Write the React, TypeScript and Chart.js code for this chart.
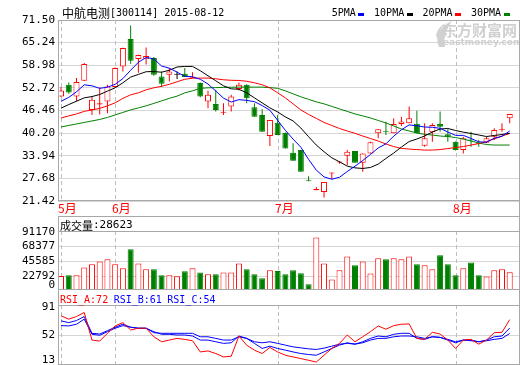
import React, { useEffect, useRef } from 'react';
import { Chart, registerables } from 'chart.js';
Chart.register(...registerables);

// ---------------- data ----------------
const stockName = '中航电测';
const stockCode = '[300114] 2015-08-12';
const monthIdx = [0, 7, 28, 51];
const monthText = ['5月', '6月', '7月', '8月'];

const openP = [50.32,53.57,50.32,54.68,46.62,48.15,48.93,52.93,58.66,66.27,60.70,60.76,60.99,55.88,56.35,56.35,56.63,55.52,54.05,48.93,48.29,45.87,47.54,52.38,53.57,47.38,45.24,39.40,43.10,40.32,34.76,35.51,27.00,24.39,23.92,29.03,32.04,33.93,35.23,31.98,34.59,40.15,40.79,40.20,42.73,42.93,42.82,36.70,40.43,42.73,39.87,37.82,35.51,38.43,37.46,37.54,39.20,41.15,44.32];
const highP = [52.93,54.21,55.43,59.60,50.32,52.82,53.57,58.38,63.80,69.97,61.91,63.86,61.27,57.27,58.21,57.27,58.21,57.05,54.20,51.90,52.18,48.49,50.79,54.21,53.70,48.49,46.82,43.85,45.24,40.40,37.37,35.51,28.28,25.31,26.70,29.31,32.45,35.51,35.23,34.59,37.82,41.26,43.37,44.32,44.76,47.54,46.40,42.93,42.93,46.15,41.26,37.90,39.20,40.60,38.29,39.20,41.54,42.93,45.51];
const lowP = [50.20,51.07,48.93,54.60,45.24,45.32,45.71,52.80,57.27,59.41,56.90,59.21,56.07,52.93,54.49,55.16,55.71,55.43,50.10,47.10,46.15,45.24,46.15,51.99,48.49,44.76,40.60,36.62,39.68,35.98,32.54,29.48,26.85,24.39,22.36,27.45,31.76,31.34,31.98,29.48,34.59,38.76,39.68,40.20,42.18,42.93,40.15,36.43,37.82,40.60,37.82,35.40,34.59,36.43,36.43,37.37,38.29,40.60,42.93];
const closeP = [51.99,51.43,54.32,59.32,49.40,48.49,53.10,58.21,63.77,60.24,61.83,61.55,56.35,53.85,57.27,56.35,55.71,55.80,50.32,50.79,46.62,45.98,50.32,53.57,49.88,44.76,40.60,43.85,39.68,35.98,32.54,29.48,26.89,24.75,26.70,29.31,32.17,35.04,31.98,34.59,37.65,41.26,40.60,42.73,43.43,44.32,40.15,38.76,42.46,41.98,39.20,35.51,38.76,38.15,37.26,38.76,41.07,41.34,45.51];

const volume = [22792,23856,23856,35556,40570,44673,48168,40570,34493,63363,41634,32973,32973,23856,23856,22337,29934,34493,27959,25376,25376,27959,27959,41634,32973,25376,19298,31454,30390,25376,31454,26895,10181,81141,41634,17322,31454,52271,39051,44673,26439,49688,48168,49688,48168,52271,40570,39051,32973,54246,40570,23856,34493,43154,23856,21881,31454,32973,28623];

const ma5 = [48.99,50.10,51.63,53.57,53.29,52.59,52.93,53.70,55.30,57.60,59.80,61.12,60.75,58.76,58.17,57.07,55.91,55.80,55.09,53.79,51.85,49.90,48.81,49.46,49.27,48.90,47.83,46.53,43.75,40.97,38.53,36.31,32.94,29.95,28.09,27.45,27.99,29.59,31.04,32.62,34.29,36.10,37.22,39.37,41.13,42.47,42.25,41.88,41.82,41.53,40.51,39.58,39.58,38.72,37.78,37.69,38.80,39.32,40.79];
const ma10 = [47.10,48.10,49.04,49.96,50.32,50.88,51.82,52.74,54.13,55.71,56.44,57.19,57.24,57.05,57.60,58.49,58.66,58.66,57.46,56.07,54.68,53.29,52.46,52.32,51.35,49.96,48.57,47.18,46.07,44.68,43.57,41.62,39.20,36.90,35.04,33.37,32.26,31.06,30.59,30.42,30.70,31.62,33.20,34.68,36.34,37.87,38.57,39.40,40.51,41.34,41.48,40.93,40.46,40.10,39.68,39.26,39.54,39.82,40.15];
const ma20 = [44.40,44.96,45.51,46.21,46.62,47.04,47.74,48.57,49.82,50.79,51.35,52.18,52.74,53.16,53.71,54.41,55.10,55.38,55.43,55.43,55.24,54.96,54.82,54.77,54.55,54.13,53.57,52.74,51.35,49.96,48.29,46.62,45.37,44.26,43.15,42.32,41.48,40.79,40.15,39.40,38.70,38.01,37.18,36.48,35.98,35.79,35.65,35.51,35.51,35.65,35.93,36.20,36.48,36.90,37.32,37.87,38.57,39.40,40.10];
const ma30 = [41.90,42.32,42.73,43.15,43.57,43.98,44.54,45.24,45.93,46.62,47.18,47.74,48.43,49.13,49.82,50.43,51.35,51.90,52.60,52.74,52.79,52.85,52.90,52.93,52.93,52.93,52.93,52.79,52.60,51.90,51.07,50.24,49.54,48.85,48.29,47.60,46.90,46.21,45.51,44.96,44.40,43.71,43.01,42.18,41.34,40.79,40.23,39.87,39.68,39.40,39.26,38.98,38.57,38.01,37.46,37.04,36.90,36.90,36.90];

const rsiA = [76.9,72.6,76.0,81.3,45.4,44.1,54.2,63.8,68.1,58.5,60.8,60.8,49.7,43.2,45.4,47.6,46.3,44.5,30.0,31.3,27.9,23.5,24.4,50.7,38.8,32.3,27.9,35.8,30.0,25.7,23.5,21.4,19.1,16.9,25.7,34.5,41.1,52.0,43.2,49.7,56.3,63.8,59.5,64.2,66.0,66.4,47.6,46.3,55.5,53.3,45.4,34.5,45.4,46.3,40.1,45.4,55.0,55.5,72];
const rsiB = [70.4,68.1,70.8,76.0,54.2,53.3,57.6,62.1,66.0,62.1,60.8,60.8,56.3,52.9,52.9,52.0,52.0,50.7,45.4,45.4,43.2,41.1,41.9,50.7,47.6,41.1,34.5,37.5,34.5,32.3,30.0,27.9,26.6,25.7,30.0,34.5,38.8,41.9,40.1,43.2,47.6,50.7,49.7,52.9,54.2,54.2,47.6,46.3,49.7,48.9,45.4,41.9,45.4,45.4,43.2,45.4,49.7,50.7,61];
const rsiC = [64.2,63.8,66.0,72.6,52.9,51.6,56.3,60.8,64.2,62.1,60.8,60.8,55.0,54.2,54.2,54.2,54.2,54.2,49.7,49.7,47.6,45.4,45.4,49.7,47.6,43.2,41.9,43.2,41.1,38.8,36.6,35.3,34.0,33.2,34.9,37.5,40.1,41.1,40.1,41.9,45.4,47.6,47.6,49.7,50.7,50.7,49.7,47.6,49.7,48.9,46.3,43.2,45.4,44.5,43.2,44.5,46.3,47.6,54];

const priceTicks = [21.42, 27.68, 33.94, 40.20, 46.46, 52.72, 58.98, 65.24, 71.50];
const volTicks = [0, 22792.5, 45585, 68377.5, 91170];
const rsiTicks = [13, 52, 91];
const legendNames = ['5PMA', '10PMA', '20PMA', '30PMA'];
const volTitle = '成交量';
const rsiNames = ['RSI_A', 'RSI_B', 'RSI_C'];

// ---------------- style ----------------
const MONO = '"DejaVu Sans Mono", "Liberation Mono", monospace';
const CJK = '"Noto Sans CJK SC", sans-serif';
const RED = '#ff0000';
const GREEN = '#008000';
const BLUE = '#0000ff';
const BLACK = '#000000';
const GRID = '#d6d6d6';
const FRAME = '#a8a8a8';
const DASH = '#bdbdbd';
const legendColors = [BLUE, BLACK, RED, GREEN];
const X_MIN = -0.39;
const X_MAX = 59.2;
const AXIS_W = 58;
const LABEL_SIZE = 11;

const N = closeP.length;
const IDX = Array.from({ length: N }, (_, i) => i);
const isUp = IDX.map(i => closeP[i] >= openP[i]);
const candleColor = IDX.map(i => (closeP[i] === openP[i] ? BLACK : isUp[i] ? RED : GREEN));
const volColor = IDX.map(i => (isUp[i] ? RED : GREEN));

function hline(ctx: CanvasRenderingContext2D, y: number, x1: number, x2: number) {
  ctx.beginPath(); ctx.moveTo(x1, y); ctx.lineTo(x2, y); ctx.stroke();
}
function vline(ctx: CanvasRenderingContext2D, x: number, y1: number, y2: number) {
  ctx.beginPath(); ctx.moveTo(x, y1); ctx.lineTo(x, y2); ctx.stroke();
}

const monthLinesPlugin = {
  id: 'monthLines',
  beforeDatasetsDraw(chart: any) {
    const { ctx, chartArea: a, scales } = chart;
    ctx.save();
    ctx.strokeStyle = DASH; ctx.lineWidth = 1; ctx.setLineDash([4, 3]);
    monthIdx.forEach(i => {
      const px = Math.round(scales.x.getPixelForValue(i)) + 0.5;
      vline(ctx, px, a.top, a.bottom);
    });
    ctx.restore();
  },
};

const xScale = () => ({
  type: 'linear', min: X_MIN, max: X_MAX, display: false, offset: false, bounds: 'data',
  grid: { offset: false, display: false }, ticks: { display: false },
});

function yScale(min: number, max: number, gridTicks: number[], showLabels: boolean, fmt?: (v: number) => string) {
  return {
    position: 'left',
    min, max,
    afterBuildTicks: (s: any) => { s.ticks = gridTicks.map(v => ({ value: v })); },
    afterFit: (s: any) => { s.width = AXIS_W; },
    grid: { color: GRID, drawTicks: false, lineWidth: 1 },
    border: { display: false },
    ticks: {
      display: showLabels, autoSkip: false, padding: 3, color: BLACK,
      font: { family: MONO, size: LABEL_SIZE },
      callback: (v: any) => (fmt ? fmt(Number(v)) : String(v)),
    },
  };
}

const baseOpts = (padTop: number, padBottom: number) => ({
  responsive: false,
  animation: false,
  devicePixelRatio: 1,
  events: [],
  layout: { padding: { left: 0, right: 1, top: padTop, bottom: padBottom } },
  plugins: { legend: { display: false }, tooltip: { enabled: false } },
});

// ---------------- price chart ----------------
const pricePlugin = {
  id: 'priceDeco',
  beforeDatasetsDraw(chart: any) {
    const { ctx } = chart;
    ctx.save();
    ctx.fillStyle = '#d0d0d0';
    ctx.beginPath();
    ctx.moveTo(439, 47);
    ctx.quadraticCurveTo(432, 31, 452, 21);
    ctx.quadraticCurveTo(442, 33, 445, 47);
    ctx.closePath();
    ctx.fill();
    ctx.beginPath();
    ctx.moveTo(436, 36);
    ctx.quadraticCurveTo(437, 27, 446, 23);
    ctx.quadraticCurveTo(439, 29, 438, 38);
    ctx.closePath();
    ctx.fill();
    ctx.font = 'bold 15px ' + CJK;
    ctx.textBaseline = 'middle';
    ctx.textAlign = 'left';
    ctx.fillText('东方财富网', 442, 30);
    ctx.font = 'bold 9px "DejaVu Sans", sans-serif';
    ctx.fillText('eastmoney.com', 443, 43);
    ctx.restore();
  },
  afterDraw(chart: any) {
    const { ctx, chartArea: a, scales } = chart;
    ctx.save();
    ctx.strokeStyle = FRAME; ctx.lineWidth = 1;
    hline(ctx, a.top + 0.5, a.left, 520);
    hline(ctx, a.bottom - 0.5, a.left, 520);
    vline(ctx, a.left + 0.5, a.top, a.bottom);
    vline(ctx, 519.5, a.top, chart.height);
    ctx.textBaseline = 'middle'; ctx.textAlign = 'left'; ctx.fillStyle = BLACK;
    ctx.font = '12px ' + CJK;
    ctx.fillText(stockName, 62, 13);
    const w = ctx.measureText(stockName).width;
    ctx.font = '10px ' + MONO;
    ctx.fillText(stockCode, 62 + w, 13);
    let x = 331.7;
    legendNames.forEach((name, k) => {
      ctx.fillStyle = BLACK;
      ctx.fillText(name, x, 13);
      x += ctx.measureText(name).width + 2.7;
      ctx.fillStyle = legendColors[k];
      ctx.fillRect(Math.round(x), 13, 6, 3);
      x += 6.6 + 9;
    });
    ctx.fillStyle = RED;
    ctx.font = '12px ' + CJK;
    monthIdx.forEach((i, k) => {
      const px = Math.round(scales.x.getPixelForValue(i));
      ctx.fillText(monthText[k], px - 3, 208);
    });
    ctx.restore();
  },
};

function priceConfig(): any {
  const line = (data: number[], color: string, order: number) => ({
    type: 'line', data: data.map((v, i) => ({ x: i, y: v })), borderColor: color, borderWidth: 1,
    pointRadius: 0, tension: 0, fill: false, order,
  });
  return {
    type: 'bar',
    data: {
      datasets: [
        line(ma5, BLUE, 0),
        line(ma10, BLACK, 1),
        line(ma20, RED, 2),
        line(ma30, GREEN, 3),
        {
          type: 'bar', data: IDX.map(i => ({ x: i, y: [openP[i], closeP[i]] })),
          backgroundColor: IDX.map(i => (isUp[i] ? '#ffffff' : GREEN)),
          borderColor: candleColor,
          borderWidth: 1, borderSkipped: false, barThickness: 6, grouped: false,
          minBarLength: 1, inflateAmount: 0, order: 5,
        },
        {
          type: 'bar', data: IDX.map(i => ({ x: i, y: [lowP[i], highP[i]] })),
          backgroundColor: candleColor,
          borderWidth: 0, barThickness: 1, grouped: false, inflateAmount: 0, order: 6,
        },
      ],
    },
    options: {
      ...baseOpts(20, 15),
      scales: {
        x: xScale(),
        y: yScale(priceTicks[0], priceTicks[priceTicks.length - 1], priceTicks, true, v => v.toFixed(2)),
      },
    },
    plugins: [monthLinesPlugin, pricePlugin],
  };
}

// ---------------- volume chart ----------------
const volPlugin = {
  id: 'volDeco',
  afterDraw(chart: any) {
    const { ctx, chartArea: a, scales } = chart;
    ctx.save();
    ctx.strokeStyle = FRAME; ctx.lineWidth = 1;
    hline(ctx, 0.5, a.left, 520);
    hline(ctx, a.top + 0.5, a.left, 520);
    hline(ctx, a.bottom + 0.5, a.left, 520);
    vline(ctx, a.left + 0.5, 0, chart.height);
    vline(ctx, 519.5, 0, chart.height);
    ctx.textBaseline = 'middle'; ctx.fillStyle = BLACK;
    ctx.font = LABEL_SIZE + 'px ' + MONO; ctx.textAlign = 'right';
    volTicks.forEach(v => {
      const py = Math.min(Math.max(scales.y.getPixelForValue(v), a.top + 1), a.bottom - 4);
      ctx.fillText(String(Math.floor(v)), AXIS_W - 3, py);
    });
    ctx.textAlign = 'left';
    ctx.font = '11px ' + CJK;
    ctx.fillText(volTitle, 60, 9.5);
    const w = ctx.measureText(volTitle).width;
    ctx.font = '11px ' + MONO;
    ctx.fillText(':' + volume[N - 1], 60 + w, 9.5);
    ctx.restore();
  },
};

function volConfig(): any {
  return {
    type: 'bar',
    data: {
      datasets: [{
        data: IDX.map(i => ({ x: i, y: volume[i] })),
        backgroundColor: IDX.map(i => (isUp[i] ? '#ffffff' : GREEN)),
        borderColor: volColor,
        borderWidth: 1, borderSkipped: false, barThickness: 6, grouped: false, inflateAmount: 0,
      }],
    },
    options: {
      ...baseOpts(15, 1),
      scales: {
        x: xScale(),
        y: yScale(3039, 91170, volTicks.slice(1, 4), false),
      },
    },
    plugins: [monthLinesPlugin, volPlugin],
  };
}

// ---------------- RSI chart ----------------
const rsiPlugin = {
  id: 'rsiDeco',
  afterDraw(chart: any) {
    const { ctx, chartArea: a, scales } = chart;
    ctx.save();
    ctx.strokeStyle = FRAME; ctx.lineWidth = 1;
    hline(ctx, a.top + 0.5, a.left, 520);
    hline(ctx, chart.height - 0.5, a.left, 520);
    vline(ctx, a.left + 0.5, 0, chart.height);
    vline(ctx, 519.5, 0, chart.height);
    ctx.textBaseline = 'middle'; ctx.fillStyle = BLACK;
    ctx.font = LABEL_SIZE + 'px ' + MONO; ctx.textAlign = 'right';
    rsiTicks.forEach(v => {
      const py = Math.min(Math.max(scales.y.getPixelForValue(v), a.top + 2), a.bottom - 5);
      ctx.fillText(String(v), AXIS_W - 3, py);
    });
    ctx.textAlign = 'left';
    ctx.font = '10px ' + MONO;
    const vals = [rsiA[N - 1], rsiB[N - 1], rsiC[N - 1]];
    const cols = [RED, BLUE, BLUE];
    let x = 60;
    rsiNames.forEach((nm, k) => {
      const t = nm + ':' + Math.round(vals[k]);
      ctx.fillStyle = cols[k];
      ctx.fillText(t, x, 10);
      x += ctx.measureText(t).width + 5.5;
    });
    ctx.restore();
  },
};

function rsiConfig(): any {
  const line = (data: number[], color: string, order: number) => ({
    type: 'line', data: data.map((v, i) => ({ x: i, y: v })), borderColor: color, borderWidth: 1,
    pointRadius: 0, tension: 0, fill: false, order,
  });
  return {
    type: 'line',
    data: { datasets: [line(rsiA, RED, 0), line(rsiB, BLUE, 1), line(rsiC, BLUE, 2)] },
    options: {
      ...baseOpts(15, 0),
      scales: {
        x: xScale(),
        y: yScale(rsiTicks[0], rsiTicks[2], [rsiTicks[1]], false),
      },
    },
    plugins: [monthLinesPlugin, rsiPlugin],
  };
}

export default function App() {
  const pRef = useRef<HTMLCanvasElement>(null);
  const vRef = useRef<HTMLCanvasElement>(null);
  const rRef = useRef<HTMLCanvasElement>(null);
  useEffect(() => {
    const charts = [
      new Chart(pRef.current as HTMLCanvasElement, priceConfig()),
      new Chart(vRef.current as HTMLCanvasElement, volConfig()),
      new Chart(rRef.current as HTMLCanvasElement, rsiConfig()),
    ];
    return () => charts.forEach(c => c.destroy());
  }, []);
  const cs: React.CSSProperties = { position: 'absolute', left: 0, display: 'block' };
  return (
    <div style={{ position: 'absolute', left: 0, top: 0, width: 520, height: 365, background: '#fff', overflow: 'hidden' }}>
      <canvas ref={pRef} width={520} height={216} style={{ ...cs, top: 0, width: 520, height: 216 }} />
      <canvas ref={vRef} width={520} height={74} style={{ ...cs, top: 216, width: 520, height: 74 }} />
      <canvas ref={rRef} width={520} height={75} style={{ ...cs, top: 290, width: 520, height: 75 }} />
    </div>
  );
}
